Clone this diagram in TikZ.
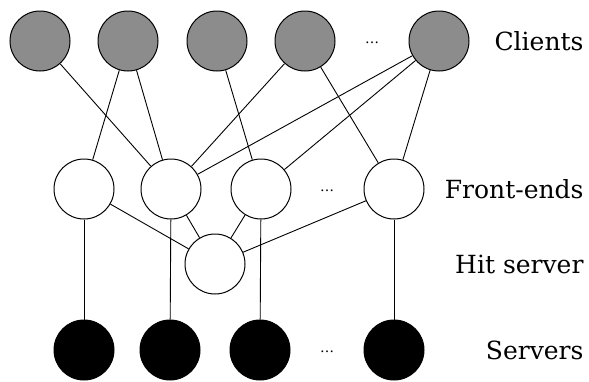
\documentclass[tikz,border=0pt]{standalone}
\usepackage{fontspec}
\setmainfont{DejaVu Serif}
\usepackage{tikz}
\usetikzlibrary{calc}
\tikzset{
  host/.style={
    circle,
    draw,
    line width=1pt,
    minimum size=60pt,
    inner sep=0pt},
  client/.style={host, fill=black!45},
  front/.style={host, fill=white},
  server/.style={host, fill=black},
  link/.style={
    line width=0.9pt},
  tier/.style={
    anchor=east,
    font=\fontsize{25}{30}\selectfont},
  more/.style={
    font=\fontsize{14}{14}\selectfont}
  }

\begin{document}
\begin{tikzpicture}[x=1pt,y=-1pt]
    \useasboundingbox (0,0) rectangle (589,381);
    % clients
    \node[client] (c1) at (40,41) {};
    \node[client] (c2) at (128,41) {};
    \node[client] (c3) at (217,41) {};
    \node[client] (c4) at (305,41) {};
    \node[more] (cdots) at (372,43) {\dots};
    \node[client] (c5) at (439,41) {};
    % front-ends
    \node[front] (f1) at (84,189) {};
    \node[front] (f2) at (171,189) {};
    \node[front] (f3) at (261,189) {};
    \node[more] (fdots) at (327,191) {\dots};
    \node[front] (f4) at (394,189) {};
    % hit server
    \node[front] (h) at (215,264) {};
    % servers
    \node[server] (s1) at (84,350) {};
    \node[server] (s2) at (170,350) {};
    \node[server] (s3) at (260,350) {};
    \node[more] (sdots) at (327,352) {\dots};
    \node[server] (s4) at (394,350) {};
    \draw [link]
    (c1) edge[] (f2)
    (c2) edge[] (f1)
    (c2) edge[] (f2)
    (c3) edge[] (f3)
    (c4) edge[] (f2)
    (c4) edge[] (f4)
    (c5) edge[] (f2)
    (c5) edge[] (f3)
    (c5) edge[] (f4);
    \draw [link]
    (f1) edge[] (h)
    (f2) edge[] (h)
    (f3) edge[] (h)
    (f4) edge[] (h);
    \draw [link]
    (f1) edge[] (s1)
    (f2) edge[] (s2)
    (f3) edge[] (s3)
    (f4) edge[] (s4);
    \node[tier] (lc) at (587,41) {Clients};
    \node[tier] (lf) at (587,189) {Front-ends};
    \node[tier] (lh) at (587,264) {Hit server};
    \node[tier] (ls) at (587,350) {Servers};
\end{tikzpicture}
\end{document}
